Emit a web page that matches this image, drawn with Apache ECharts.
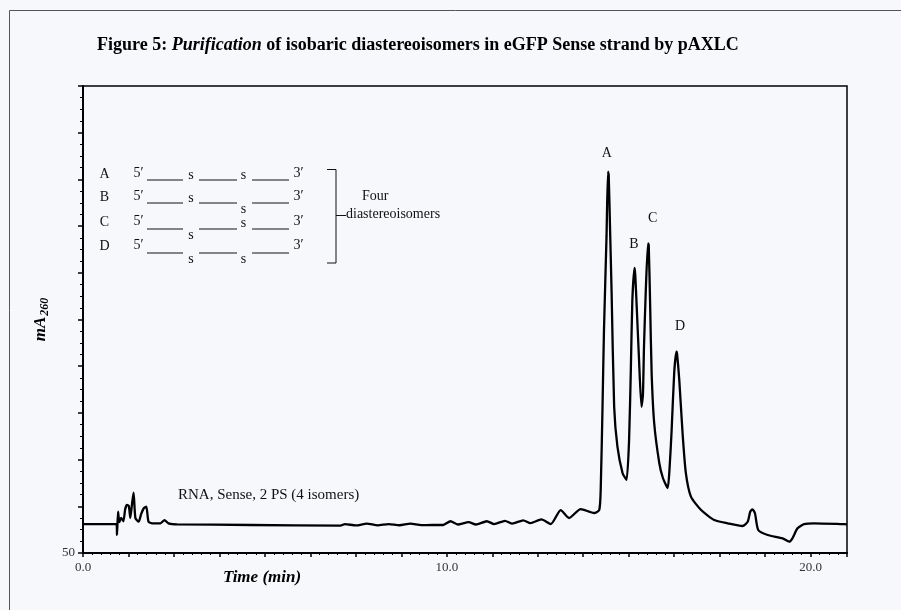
<!DOCTYPE html>
<html><head><meta charset="utf-8">
<script src="https://cdn.jsdelivr.net/npm/echarts@6/dist/echarts.min.js"></script>
<style>html,body{margin:0;padding:0;background:#f6f8fb}#c{width:901px;height:610px}</style>
</head><body><div id="c"></div>
<script>
// Chromatogram trace: time (min) and absorbance (mA260)
var timeVals = [0,0.92,0.935,0.963,1.0,1.05,1.11,1.16,1.21,1.26,1.30,1.35,1.39,1.44,1.53,1.60,1.67,1.74,1.80,1.90,2.13,2.24,2.35,2.59,
  4.6,7.08,7.2,7.5,7.8,8.1,8.4,8.7,9.0,9.3,9.6,9.9,10.1,10.3,10.6,10.8,11.1,11.3,11.6,11.8,12.1,12.3,12.6,12.86,
  13.13,13.36,13.68,14.05,14.19,14.23,14.28,14.32,14.39,14.43,14.45,14.49,14.53,14.60,14.69,14.83,14.94,
  15.01,15.06,15.10,15.16,15.18,15.22,15.28,15.35,15.39,15.42,15.47,15.53,15.55,15.59,15.63,15.70,15.84,15.94,
  16.07,16.12,16.18,16.25,16.31,16.33,16.39,16.48,16.57,16.71,16.99,17.35,17.72,18.13,18.27,18.34,18.40,18.47,18.56,
  18.82,19.23,19.41,19.5,19.64,19.82,20.1,20.83,21.0];
var absVals = [81,81,69.3,94.2,83.2,87.5,84,97,101.4,100.3,87.5,103.5,114.6,87.5,83.5,91.8,97.9,99.6,83.5,81.8,81.8,85.3,81.8,80.7,
  80,79.4,81,79.5,81.5,79.6,81,79.7,81.5,79.8,80,80,84,80.5,83,80.5,84,81,84.5,81.5,85,82,86,81,
  96,87.5,97,92.8,96,117.5,206.6,288.8,388.7,458.3,454.7,392.6,328.4,206.6,163.8,135.7,128.2,
  171,249.5,320.9,355.2,347.6,313.7,260.2,206.6,219,270.9,331.6,381.6,379.8,313.7,242.7,189.2,146.4,130.3,
  119.6,138.9,181.7,242.7,265.5,263,235.2,178.5,135.7,110.3,96,85.3,81.8,78.9,83.5,94.2,96.8,92.5,74.6,
  69.3,65.7,62.1,65.7,76.4,81,81.8,81,80.7];
// Peak letter labels (time, value)
var peakNames = ['A','B','C','D'];
var peakLabelTimes = [14.40, 15.14, 15.66, 16.41];
var peakLabelVals = [478, 381, 408, 293];
// axis ticks
var xTickLabels = ['0.0','10.0','20.0'];
var yTickLabels = ['50'];

var serif = '"Liberation Serif","Times New Roman",serif';
var chart = echarts.init(document.getElementById('c'));
var data = timeVals.map(function(t,i){return [t, absVals[i]];});

// inset schematic
var rows = [
  {L:'A', y:174, ly:180, s:[0,0]},
  {L:'B', y:197, ly:203, s:[0,1]},
  {L:'C', y:222, ly:229, s:[1,0]},
  {L:'D', y:246, ly:253, s:[1,1]}
];
var g = [];
g.push({type:'rect', shape:{x:9.5,y:10.5,width:900,height:610}, style:{fill:'none', stroke:'#555', lineWidth:1}, silent:true});
function txt(x,y,s,align,size){
  return {type:'text', x:x, y:y, style:{text:s, font:(size||14)+'px '+serif, fill:'#111', textAlign:align||'center', textVerticalAlign:'middle'}};
}
rows.forEach(function(r){
  g.push(txt(104.5, r.y, r.L));
  g.push(txt(138.5, r.y-1, '5\u2032'));
  g.push(txt(298.5, r.y-1, '3\u2032'));
  [[147,183],[199,237],[252,289]].forEach(function(seg){
    g.push({type:'line', shape:{x1:seg[0],y1:r.ly,x2:seg[1],y2:r.ly}, style:{stroke:'#111', lineWidth:1}});
  });
  g.push(txt(191, r.s[0] ? r.ly+6 : r.y+1, 's'));
  g.push(txt(243.5, r.s[1] ? r.ly+6 : r.y+1, 's'));
});
// bracket
g.push({type:'polyline', shape:{points:[[327,169.5],[336,169.5],[336,263],[327,263]]}, style:{stroke:'#111', lineWidth:1, fill:'none'}});
g.push({type:'line', shape:{x1:336,y1:215.5,x2:346,y2:215.5}, style:{stroke:'#111', lineWidth:1}});
g.push(txt(362, 196, 'Four', 'left'));
g.push(txt(346, 214, 'diastereoisomers', 'left'));
g.push(txt(178, 495, 'RNA, Sense, 2 PS (4 isomers)', 'left', 15));
g.push({type:'text', x:262, y:578, style:{text:'Time (min)', font:'italic bold 17px '+serif, fill:'#000', textAlign:'center', textVerticalAlign:'middle'}});

chart.setOption({
  backgroundColor:'#f6f8fb',
  animation:false,
  title:{
    text:'{b|Figure 5: }{bi|Purification}{b| of isobaric diastereoisomers in eGFP Sense strand by pAXLC}',
    left:92, top:31,
    textStyle:{rich:{
      b:{fontFamily:serif, fontWeight:'bold', fontSize:18, color:'#000'},
      bi:{fontFamily:serif, fontWeight:'bold', fontStyle:'italic', fontSize:18, color:'#000'}
    }}
  },
  grid:{left:83, right:54, top:86, bottom:57, show:true, borderColor:'#000', borderWidth:1.5, backgroundColor:'transparent'},
  xAxis:{
    type:'value', min:0, max:21, interval:1.25,
    axisLine:{lineStyle:{color:'#000', width:2}},
    axisTick:{show:true, length:4, lineStyle:{color:'#000', width:1.5}},
    minorTick:{show:true, splitNumber:5, length:2, lineStyle:{color:'#000'}},
    splitLine:{show:false},
    axisLabel:{fontFamily:serif, fontSize:13, color:'#333', margin:8,
      formatter:function(v){var k=Math.round(v/10); return (Math.abs(v-k*10)<1e-6 && xTickLabels[k]) ? xTickLabels[k] : '';}}
  },
  yAxis:{
    type:'value', min:50, max:550, interval:50,
    name:'{m|mA}{s|260}', nameLocation:'middle', nameGap:23, nameRotate:90,
    nameTextStyle:{rich:{
      m:{fontFamily:serif, fontWeight:'bold', fontStyle:'italic', fontSize:17, color:'#000'},
      s:{fontFamily:serif, fontWeight:'bold', fontStyle:'italic', fontSize:12, color:'#000', padding:[9,0,0,1]}
    }},
    axisLine:{lineStyle:{color:'#000', width:2}},
    axisTick:{show:true, length:5, lineStyle:{color:'#000', width:1.5}},
    minorTick:{show:true, splitNumber:4, length:3, lineStyle:{color:'#000'}},
    splitLine:{show:false},
    axisLabel:{fontFamily:serif, fontSize:13, color:'#333', margin:8,
      formatter:function(v){return v===50 ? yTickLabels[0] : '';}}
  },
  series:[{
    type:'line', data:data, showSymbol:false, smooth:0.2,
    lineStyle:{color:'#000', width:2.3},
    markPoint:{
      symbol:'circle', symbolSize:0,
      label:{show:true, position:'inside', fontFamily:serif, fontSize:14, color:'#111',
        formatter:function(p){return p.name;}},
      data: peakNames.map(function(n,i){return {name:n, coord:[peakLabelTimes[i], peakLabelVals[i]]};})
    }
  }],
  graphic:g
});
</script></body></html>
